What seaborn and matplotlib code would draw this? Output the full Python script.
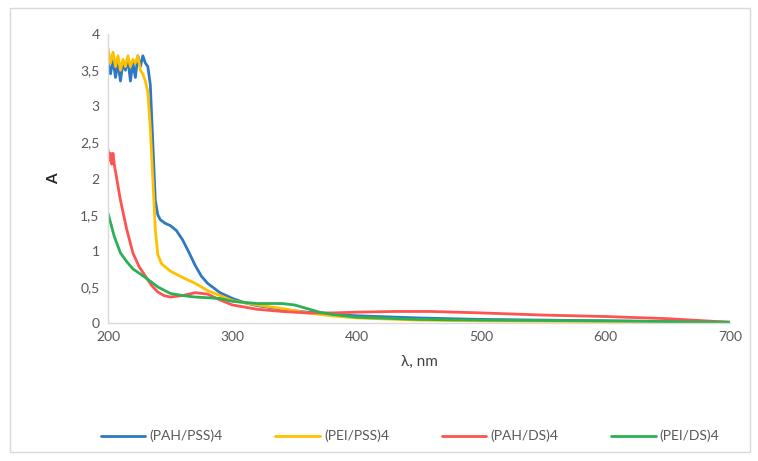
import numpy as np
import pandas as pd
import matplotlib
matplotlib.use("Agg")
import matplotlib.pyplot as plt
import seaborn as sns
from matplotlib.ticker import FuncFormatter

series_names = ["(PAH/PSS)4", "(PEI/PSS)4", "(PAH/DS)4", "(PEI/DS)4"]
colors = ["#2F78C4", "#FFC000", "#FF5252", "#2BB056"]

wl_pah_pss = [200, 202, 204, 206, 208, 210, 212, 214, 216, 218, 220, 222, 224, 226, 228, 230, 232, 234,
              236, 238, 240, 242, 246, 250, 255, 260, 265, 270, 275, 280, 290, 300, 310, 320, 340, 360,
              380, 400, 450, 500, 550, 600, 650, 700]
a_pah_pss = [3.6, 3.45, 3.65, 3.4, 3.6, 3.35, 3.6, 3.5, 3.65, 3.35, 3.6, 3.4, 3.7, 3.55, 3.7, 3.6, 3.55, 3.3,
             2.5, 1.7, 1.5, 1.43, 1.38, 1.35, 1.28, 1.15, 0.98, 0.8, 0.65, 0.55, 0.42, 0.34, 0.28, 0.24, 0.19, 0.15,
             0.12, 0.1, 0.07, 0.05, 0.04, 0.03, 0.02, 0.01]

wl_pei_pss = [200, 202, 204, 206, 208, 210, 212, 214, 216, 218, 220, 222, 224, 226, 228, 230, 232, 234,
              236, 238, 240, 243, 250, 260, 270, 280, 290, 300, 320, 340, 360, 380, 400, 450, 500, 600, 700]
a_pei_pss = [3.8, 3.6, 3.75, 3.55, 3.7, 3.5, 3.65, 3.55, 3.7, 3.55, 3.65, 3.6, 3.7, 3.5, 3.45, 3.35, 3.2, 2.7,
             2.0, 1.3, 0.95, 0.82, 0.72, 0.63, 0.55, 0.45, 0.38, 0.31, 0.25, 0.2, 0.14, 0.1, 0.07, 0.04, 0.03, 0.02, 0.01]

wl_pah_ds = [200, 201, 202, 203, 204, 205, 207, 210, 215, 220, 225, 230, 235, 240, 245, 250, 260, 270, 280,
             290, 300, 320, 340, 360, 380, 400, 430, 460, 500, 550, 600, 650, 700]
a_pah_ds = [2.4, 2.25, 2.35, 2.2, 2.35, 2.2, 2.0, 1.7, 1.3, 0.97, 0.78, 0.65, 0.52, 0.43, 0.38, 0.36, 0.38, 0.42, 0.4,
            0.32, 0.25, 0.19, 0.16, 0.14, 0.14, 0.15, 0.16, 0.16, 0.14, 0.11, 0.09, 0.06, 0.01]

wl_pei_ds = [200, 205, 210, 215, 220, 230, 240, 250, 260, 270, 290, 300, 320, 340, 350, 360, 370, 380, 400,
             450, 500, 600, 700]
a_pei_ds = [1.52, 1.2, 0.97, 0.85, 0.75, 0.63, 0.5, 0.41, 0.38, 0.36, 0.34, 0.3, 0.27, 0.27, 0.25, 0.2, 0.15, 0.12, 0.08,
            0.05, 0.04, 0.03, 0.01]

x_ticks = [200, 300, 400, 500, 600, 700]
y_ticks = [0, 0.5, 1, 1.5, 2, 2.5, 3, 3.5, 4]

frames = []
for name, wl, a in zip(series_names,
                       [wl_pah_pss, wl_pei_pss, wl_pah_ds, wl_pei_ds],
                       [a_pah_pss, a_pei_pss, a_pah_ds, a_pei_ds]):
    frames.append(pd.DataFrame({"wl": wl, "A": a, "series": name}))
df = pd.concat(frames, ignore_index=True)

sns.set_theme(style="white")
plt.rcParams['font.family'] = ['Lato', 'DejaVu Sans']

fig = plt.figure(figsize=(7.58, 4.61), dpi=100)
ax = fig.add_axes([0.1425, 0.2993, 0.8205, 0.6267])

sns.lineplot(data=df, x="wl", y="A", hue="series", hue_order=series_names,
             palette=colors, linewidth=2.0, ax=ax, sort=True, estimator=None, legend=True)

ax.set_xlim(200, 700)
ax.set_ylim(0, 4)
ax.set_xticks(x_ticks)
ax.set_yticks(y_ticks)
ax.yaxis.set_major_formatter(FuncFormatter(lambda v, p: (f"{v:g}").replace(".", ",")))
ax.tick_params(axis="both", length=0, labelsize=10, colors="#595959", pad=6)
for s in ["top", "right"]:
    ax.spines[s].set_visible(False)
for s in ["left", "bottom"]:
    ax.spines[s].set_color("#D9D9D9")
    ax.spines[s].set_linewidth(1.0)

ax.set_xlabel("λ, nm", fontsize=11, color="#404040", labelpad=8)
ax.set_ylabel("A", fontsize=11, color="#262626", fontweight="bold", labelpad=14)

handles, labels = ax.get_legend_handles_labels()
ax.legend_.remove()
fig.legend(handles, labels, loc="center", bbox_to_anchor=(0.541, 0.054), ncol=4, frameon=False,
           fontsize=10, labelcolor="#595959", handlelength=3.2, columnspacing=3.8, handletextpad=0.3)

border = plt.Rectangle((0.013, 0.02), 0.976, 0.962, transform=fig.transFigure, fill=False,
                       edgecolor="#D9D9D9", linewidth=1.0)
fig.add_artist(border)

fig.savefig("out.png", dpi=100, facecolor="white")
